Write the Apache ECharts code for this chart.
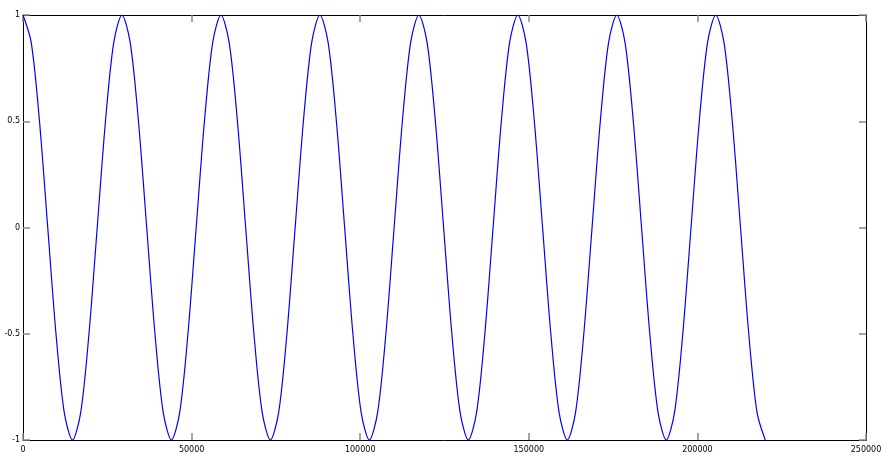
<!DOCTYPE html>
<html>
<head>
<meta charset="utf-8">
<style>
  html, body { margin: 0; padding: 0; background: #fff; }
  #chart { width: 890px; height: 462px; }
</style>
<script src="https://cdn.jsdelivr.net/npm/echarts@6/dist/echarts.min.js"></script>
</head>
<body>
<div id="chart"></div>
<script>
  // samples: peaks, troughs, crossings and the points between
  const sampleX = [
    0, 2446, 4892, 7338, 9783, 12229, 14675, 17121, 19567, 22013, 24458, 26904,
    29350, 31796, 34242, 36688, 39133, 41579, 44025, 46471, 48917, 51363, 53808, 56254,
    58700, 61146, 63592, 66038, 68483, 70929, 73375, 75821, 78267, 80713, 83158, 85604,
    88050, 90496, 92942, 95388, 97833, 100279, 102725, 105171, 107617, 110063, 112508, 114954,
    117400, 119846, 122292, 124738, 127183, 129629, 132075, 134521, 136967, 139413, 141858, 144304,
    146750, 149196, 151642, 154088, 156533, 158979, 161425, 163871, 166317, 168763, 171208, 173654,
    176100, 178546, 180992, 183438, 185883, 188329, 190775, 193221, 195667, 198113, 200558, 203004,
    205450, 207896, 210342, 212788, 215233, 217679, 220125
  ];
  const sampleY = [
    1, 0.87, 0.5, 0, -0.5, -0.87, -1, -0.87, -0.5, 0, 0.5, 0.87,
    1, 0.87, 0.5, 0, -0.5, -0.87, -1, -0.87, -0.5, 0, 0.5, 0.87,
    1, 0.87, 0.5, 0, -0.5, -0.87, -1, -0.87, -0.5, 0, 0.5, 0.87,
    1, 0.87, 0.5, 0, -0.5, -0.87, -1, -0.87, -0.5, 0, 0.5, 0.87,
    1, 0.87, 0.5, 0, -0.5, -0.87, -1, -0.87, -0.5, 0, 0.5, 0.87,
    1, 0.87, 0.5, 0, -0.5, -0.87, -1, -0.87, -0.5, 0, 0.5, 0.87,
    1, 0.87, 0.5, 0, -0.5, -0.87, -1, -0.87, -0.5, 0, 0.5, 0.87,
    1, 0.87, 0.5, 0, -0.5, -0.87, -1
  ];
  const xTicks = { min: 0, max: 250000, interval: 50000 };
  const yTicks = { min: -1, max: 1, interval: 0.5 };

  const chart = echarts.init(document.getElementById("chart"), null, { renderer: "canvas" });

  const axisLine = { show: true, onZero: false, lineStyle: { color: "#000", width: 1 } };
  const tick = { show: true, inside: true, length: 7, lineStyle: { color: "#888", width: 1.5 } };
  const label = { color: "#000", fontFamily: "DejaVu Sans", fontSize: 8, formatter: (v) => String(v) };

  chart.setOption({
    animation: false,
    grid: { left: 23, right: 24, top: 15, bottom: 22 },
    xAxis: [
      {
        type: "value", position: "bottom", ...xTicks,
        axisLine, axisTick: tick, splitLine: { show: false },
        axisLabel: { ...label, margin: 6 }
      },
      {
        type: "value", position: "top", ...xTicks,
        axisLine, axisTick: tick, splitLine: { show: false },
        axisLabel: { show: false }
      }
    ],
    yAxis: [
      {
        type: "value", position: "left", ...yTicks,
        axisLine, axisTick: tick, splitLine: { show: false },
        axisLabel: { ...label, margin: 3 }
      },
      {
        type: "value", position: "right", ...yTicks,
        axisLine, axisTick: tick, splitLine: { show: false },
        axisLabel: { show: false }
      }
    ],
    series: [
      {
        type: "line",
        data: sampleX.map((x, i) => [x, sampleY[i]]),
        smooth: 0.3,
        showSymbol: false,
        lineStyle: { color: "#0000ff", width: 1.2 }
      }
    ]
  });
</script>
</body>
</html>
